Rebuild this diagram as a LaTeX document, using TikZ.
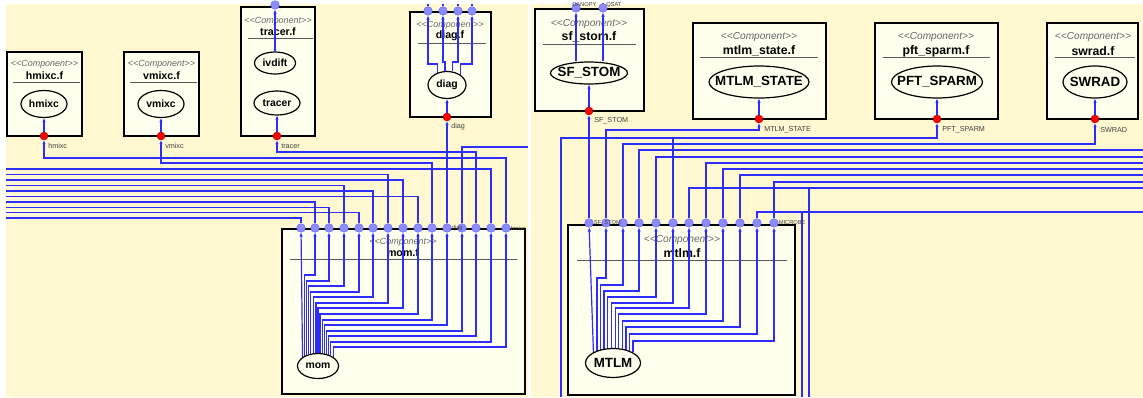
\documentclass[tikz,border=0pt]{standalone}
\usepackage{fontspec}
\setmainfont{Liberation Sans}
\usetikzlibrary{positioning,shapes.geometric,arrows.meta,fit}

\definecolor{bgcream}{RGB}{255,248,208}
\definecolor{boxfill}{RGB}{255,255,238}
\definecolor{wireblue}{RGB}{45,45,255}
\definecolor{portfill}{RGB}{140,140,255}

\pgfdeclarelayer{boxes}
\pgfdeclarelayer{wires}
\pgfsetlayers{boxes,wires,main}

\tikzset{
  compbox/.style={draw=black, line width=2.2pt, fill=boxfill, inner sep=0pt},
  stereo/.style={font=\fontsize{6.7}{7}\selectfont\itshape, text=black!60, inner sep=0pt},
  rstereo/.style={stereo, font=\fontsize{7.6}{8}\selectfont\itshape},
  ctitle/.style={font=\fontsize{8}{9}\selectfont\bfseries, inner sep=0pt},
  rtitle/.style={ctitle, font=\fontsize{9.2}{10}\selectfont\bfseries},
  sepline/.style={draw=black!65, line width=0.6pt},
  func/.style={ellipse, draw=black, line width=0.9pt, fill=boxfill, inner sep=0pt},
  ftext/.style={font=\fontsize{7.8}{8}\selectfont\bfseries, inner sep=0pt},
  rftext/.style={font=\fontsize{10}{11}\selectfont\bfseries, inner sep=0pt},
  rport/.style={circle, fill=red, draw=red!60!black, line width=0.3pt, minimum size=6pt, inner sep=0pt},
  iport/.style={circle, fill=portfill, draw=portfill!70!blue, line width=0.3pt, minimum size=6.5pt, inner sep=0pt},
  plabel/.style={font=\fontsize{5.4}{6}\selectfont, text=black!75, inner sep=0pt, anchor=west},
  tlabel/.style={font=\fontsize{4.3}{5}\selectfont, text=black!75, inner sep=0pt, anchor=west},
  link/.style={draw=wireblue, line width=0.9pt, -{Latex[length=3pt,width=2.6pt]}},
  wire/.style={draw=wireblue, line width=0.9pt},
}

\begin{document}
\begin{tikzpicture}[x=0.75pt,y=-0.75pt]
\useasboundingbox (0,0) rectangle (1143,397);

\begin{pgfonlayer}{boxes}
\fill[white] (0,0) rectangle (1143,397);
\fill[bgcream] (6,4) rectangle (528,397);
\fill[bgcream] (531,4) rectangle (1143,397);

% left panel
\node[compbox, fit={(7,52) (82,136)}] (hmixcf) {};
\node[stereo] (hmixcst) at (44.5,64) {<{}<Component>{}>};
\node[ctitle] (hmixctt) at (44.5,76) {hmixc.f};
\draw[sepline] (13,82) -- (80,82);

\node[compbox, fit={(124,52) (199,136)}] (vmixcf) {};
\node[stereo] (vmixcst) at (161.5,64) {<{}<Component>{}>};
\node[ctitle] (vmixctt) at (161.5,76) {vmixc.f};
\draw[sepline] (130,82) -- (197,82);

\node[compbox, fit={(241,7) (315,136)}] (tracerf) {};
\node[stereo] (tracerst) at (278,21) {<{}<Component>{}>};
\node[ctitle] (tracertt) at (278,32) {tracer.f};
\draw[sepline] (248,38) -- (313,38);

\node[compbox, fit={(410,12) (491,117)}] (diagf) {};
\node[stereo] (diagst) at (450,25) {<{}<Component>{}>};
\node[ctitle] (diagtt) at (450,36) {diag.f};
\draw[sepline] (418,43) -- (486,43);

\node[compbox, fit={(282,229) (525,394)}] (momf) {};
\node[stereo] (momst) at (403,242) {<{}<Component>{}>};
\node[ctitle] (momtt) at (403,253) {mom.f};
\draw[sepline] (290,259) -- (517,259);

% right panel
\node[compbox, fit={(535,9) (644,111)}] (sfstomf) {};
\node[rstereo] (sfstomst) at (589,24) {<{}<Component>{}>};
\node[rtitle] (sfstomtt) at (589,37) {sf\_stom.f};
\draw[sepline] (543,44) -- (636,44);

\node[compbox, fit={(693,23) (826,119)}] (mtlmstatef) {};
\node[rstereo] (mtlmstatest) at (759,37) {<{}<Component>{}>};
\node[rtitle] (mtlmstatett) at (759,51) {mtlm\_state.f};
\draw[sepline] (700,57) -- (818,57);

\node[compbox, fit={(875,23) (998,119)}] (pftsparmf) {};
\node[rstereo] (pftsparmst) at (936,37) {<{}<Component>{}>};
\node[rtitle] (pftsparmtt) at (936,51) {pft\_sparm.f};
\draw[sepline] (883,57) -- (990,57);

\node[compbox, fit={(1047,23) (1138,119)}] (swradf) {};
\node[rstereo] (swradst) at (1093,37) {<{}<Component>{}>};
\node[rtitle] (swradtt) at (1093,51) {swrad.f};
\draw[sepline] (1055,57) -- (1135,57);

\node[compbox, fit={(568,225) (795,395)}] (mtlmf) {};
\node[rstereo] (mtlmst) at (682,240) {<{}<Component>{}>};
\node[rtitle] (mtlmtt) at (682,253) {mtlm.f};
\draw[sepline] (577,260) -- (787,260);
\end{pgfonlayer}

% functions
\node[func, minimum width=34.5pt, minimum height=20.25pt, label={[ftext]center:hmixc}] (hmixc) at (44,104) {};
\node[func, minimum width=34.5pt, minimum height=20.25pt, label={[ftext]center:vmixc}] (vmixc) at (161,104) {};
\node[func, minimum width=30.75pt, minimum height=16.5pt, label={[ftext]center:ivdift}] (ivdift) at (275,63) {};
\node[func, minimum width=34.5pt, minimum height=18pt, label={[ftext]center:tracer}] (tracer) at (277,103) {};
\node[func, minimum width=28.5pt, minimum height=20.25pt, label={[ftext]center:diag}] (diag) at (447,85) {};
\node[func, minimum width=30.75pt, minimum height=18.75pt, label={[ftext]center:mom}] (mom) at (318,366) {};

\node[func, minimum width=57.75pt, minimum height=16.5pt, label={[rftext]center:SF\_STOM}] (sfstom) at (589,73) {};
\node[func, minimum width=75pt, minimum height=24pt, label={[rftext]center:MTLM\_STATE}] (mtlmstate) at (759,82) {};
\node[func, minimum width=68.25pt, minimum height=24pt, label={[rftext]center:PFT\_SPARM}] (pftsparm) at (937,82) {};
\node[func, minimum width=48pt, minimum height=24pt, label={[rftext]center:SWRAD}] (swrad) at (1095,82) {};
\node[func, minimum width=41.25pt, minimum height=21.75pt, label={[rftext]center:MTLM}] (mtlm) at (613,363) {};

% provided ports
\node[rport] (phmixc) at (44,136) {};
\node[rport] (pvmixc) at (161,136) {};
\node[rport] (ptracer) at (277,136) {};
\node[rport] (pdiag) at (447,117) {};
\node[rport] (psfstom) at (589,111) {};
\node[rport] (pmtlmstate) at (759,119) {};
\node[rport] (ppftsparm) at (937,119) {};
\node[rport] (pswrad) at (1095,119) {};
\node[plabel] (lhmixc) at (48,146) {hmixc};
\node[plabel] (lvmixc) at (165,146) {vmixc};
\node[plabel] (ltracer) at (281,146) {tracer};
\node[plabel] (ldiag) at (451,127) {diag};
\node[plabel] (lsfstom) at (594,121) {SF\_STOM};
\node[plabel] (lmtlmstate) at (764,130) {MTLM\_STATE};
\node[plabel] (lpftsparm) at (942,130) {PFT\_SPARM};
\node[plabel] (lswrad) at (1100,130) {SWRAD};

% required ports
\node[iport] (tp0) at (275,5) {};
\foreach \i/\x in {1/428,2/443,3/458,4/472}
  \node[iport] (dp\i) at (\x,11) {};
\foreach \i/\x in {1/301,2/315,3/329,4/344,5/359,6/373,7/388,8/403,9/418,10/432,11/447,12/462,13/476,14/491,15/506}
  \node[iport] (mp\i) at (\x,228) {};
\node[iport] (sp1) at (576,8) {};
\node[iport] (sp2) at (603,8) {};
\foreach \i/\x in {1/589,2/606,3/623,4/639,5/656,6/673,7/689,8/706,9/723,10/740,11/757,12/774}
  \node[iport] (qp\i) at (\x,223) {};

\node[tlabel] (lmp11) at (mp11.east) {diag};
\node[tlabel] (lmp15) at (mp15.east) {hmixc};
\node[tlabel] (lsp1) at (572,5) {CANOPY};
\node[tlabel] (lsp2) at (606,5) {QSAT};
\node[tlabel] (lqp1) at (qp1.east) {SF\_STOM};
\node[tlabel] (lqp12) at (qp12.east) {MICROBE};

\begin{pgfonlayer}{wires}
% ports into their functions
\draw[link] (phmixc) -- (hmixc);
\draw[link] (pvmixc) -- (vmixc);
\draw[link] (ptracer) -- (tracer);
\draw[link] (pdiag) -- (diag);
\draw[link] (psfstom) -- (sfstom);
\draw[link] (pmtlmstate) -- (mtlmstate);
\draw[link] (ppftsparm) -- (pftsparm);
\draw[link] (pswrad) -- (swrad);

% calls out of ivdift and diag
\draw[link] (ivdift) -- (tp0);
\draw[link] (diag.127) |- (428,64) -- (dp1);
\draw[link] (diag.98) |- (443,62) -- (dp2);
\draw[link] (diag.69) |- (458,62) -- (dp3);
\draw[link] (diag.37) |- (472,64) -- (dp4);
\foreach \i/\x in {1/428,2/443,3/458,4/472} {
  \coordinate (dtop\i) at (\x,4);
  \draw[wire] (dp\i) -- (dtop\i);
}

% calls out of mom
\draw[link] (mom.150) -- (mp1);
\foreach \i/\x/\a/\lv in {2/315/143/275,3/329/136/281,4/344/129/286,5/359/121/292,6/373/110/297,7/388/99/303,8/403/90/308,9/418/81/314,10/432/72/320,11/447/63/325,12/462/55/331,13/476/48/336,14/491/40/342,15/506/30/347}
  \draw[link] (mom.\a) |- (\x,\lv) -- (mp\i);

\draw[link] (mp11) -- (pdiag);
\draw[link] (mp13) |- (277,152) -- (ptracer);
\draw[link] (mp15) |- (44,158) -- (phmixc);
\draw[link] (mp10) |- (161,163) -- (pvmixc);
\coordinate (edge12) at (528,147);
\draw[wire] (mp12) |- (edge12);
\foreach \k/\y/\i in {1/169/14,2/174.5/7,3/180/8,4/185.4/4,5/191/6,6/196.3/9,7/202/2,8/207.3/3,9/212.7/5,10/218/1} {
  \coordinate (lft\k) at (6,\y);
  \draw[wire] (lft\k) -| (mp\i);
}

% calls out of SF_STOM
\draw[link] (sfstom.north -| sp1) -- (sp1);
\draw[link] (sfstom.north -| sp2) -- (sp2);
\coordinate (stop1) at (576,4);
\coordinate (stop2) at (603,4);
\draw[wire] (sp1) -- (stop1);
\draw[wire] (sp2) -- (stop2);

% calls out of MTLM
\draw[link] (mtlm.151) -- (qp1);
\foreach \i/\x/\a/\lv in {2/606/142/278,3/623/133/285,4/639/122/291,5/656/109/297,6/673/96/303,7/689/82/308,8/706/69/314,9/723/57/321,10/740/46/327,11/757/36/334,12/774/28/341}
  \draw[link] (mtlm.\a) |- (\x,\lv) -- (qp\i);

\draw[link] (qp1) -- (psfstom);
\draw[link] (qp2) |- (759,130) -- (pmtlmstate);
\draw[link] (qp3) |- (1095,144) -- (pswrad);
\coordinate (j6) at (673,138);
\draw[link] (qp6) -- (j6) -| (ppftsparm);
\coordinate (bot1) at (561,397);
\draw[wire] (bot1) |- (j6);
\foreach \i/\y in {4/150,5/157,8/163,9/169,10/175,12/182,7/188,11/212} {
  \coordinate (rgt\i) at (1143,\y);
  \draw[wire] (qp\i) |- (rgt\i);
}
\coordinate (j7) at (809,188);
\coordinate (bot7) at (809,397);
\draw[wire] (j7) -- (bot7);
\coordinate (j11) at (802,212);
\coordinate (bot11) at (802,397);
\draw[wire] (j11) -- (bot11);
\end{pgfonlayer}

\end{tikzpicture}
\end{document}
